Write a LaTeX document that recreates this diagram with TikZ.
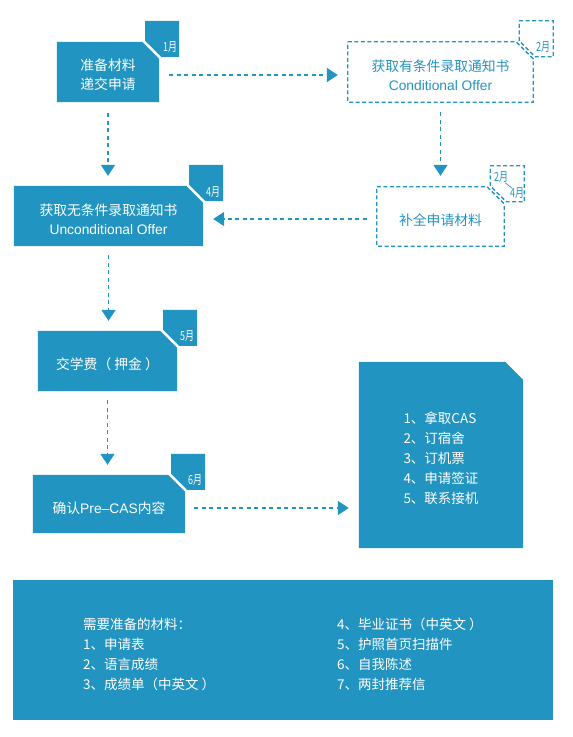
\documentclass[tikz,border=0pt]{standalone}
\usepackage{fontspec}
\setmainfont{Noto Sans CJK SC}
\newfontfamily\lat{Liberation Sans}
\usetikzlibrary{arrows.meta,calc,backgrounds}
\definecolor{cb}{HTML}{2294C1}
\newcommand\cutbox[3]{\path[#1] (#2.north west) -- ($(#2.north east)+(-#3,0)$) -- ($(#2.north east)+(0,#3)$) -- (#2.south east) -- (#2.south west) -- cycle;}
\newcommand\tabbox[2]{\path[#1] ($(#2.north east)+(-14,-21)$) -- ($(#2.north east)+(20,-21)$) -- ($(#2.north east)+(20,15)$) -- ($(#2.north east)+(2,15)$) -- ($(#2.north east)+(-14,-1)$) -- cycle;}
\newcommand\mo[1]{\scalebox{0.72}[1]{#1}}
\begin{document}
\begin{tikzpicture}[x=1pt,y=-1pt,
  shp/.style={inner sep=0pt},
  txt/.style={font=\fontsize{13.8}{19}\selectfont, align=center, inner sep=0pt},
  filltxt/.style={txt,text=white},
  dashtxt/.style={txt,text=cb},
  listtxt/.style={font=\fontsize{13.5}{20}\selectfont, align=left, inner sep=0pt, text=white},
  boxfill/.style={fill=cb},
  boxdash/.style={draw=cb, line width=1.3pt, dash pattern=on 4pt off 2.5pt},
  arr/.style={draw=cb, line width=1.6pt, dash pattern=on 4pt off 3.5pt, -{Triangle[length=11pt,width=14pt]}},
  mon/.style={font=\fontsize{12.5}{12.5}\selectfont, text=white, inner sep=0pt},
  mond/.style={mon, text=cb}
]
\useasboundingbox (0,0) rectangle (573,737);

\node[shp, minimum width=102pt, minimum height=60pt] (b1) at (108,72) {};
\node[shp, minimum width=185pt, minimum height=60pt] (b2) at (440.5,72) {};
\node[shp, minimum width=127pt, minimum height=59pt] (b3) at (440.5,216.5) {};
\node[shp, minimum width=189pt, minimum height=60pt] (b4) at (108.5,216) {};
\node[shp, minimum width=139pt, minimum height=60pt] (b5) at (107.5,361) {};
\node[shp, minimum width=152pt, minimum height=58pt] (b6) at (109,504) {};
\node[shp, minimum width=164pt, minimum height=186pt] (b7) at (441,455) {};
\node[shp, minimum width=540pt, minimum height=140pt] (b8) at (283,650) {};

\node[filltxt] (t1) at ($(b1)+(0,3)$) {准备材料\\递交申请};
\node[dashtxt] (t2) at ($(b2)+(0,3)$) {获取有条件录取通知书\\{\lat Conditional Offer}};
\node[dashtxt] (t3) at ($(b3)+(0,4)$) {补全申请材料};
\node[filltxt] (t4) at ($(b4)+(0,3)$) {获取无条件录取通知书\\{\lat Unconditional Offer}};
\node[filltxt] (t5) at ($(b5)+(0,3)$) {交学费（ 押金 ）};
\node[filltxt] (t6) at ($(b6)+(0,4)$) {确认{\lat Pre–CAS}内容};
\node[listtxt] (t7) at ($(b7)+(0,3)$) {1、拿取CAS\\2、订宿舍\\3、订机票\\4、申请签证\\5、联系接机};
\node[listtxt, anchor=west] (l1) at (83,654) {需要准备的材料：\\1、申请表\\2、语言成绩\\3、成绩单（中英文 ）};
\node[listtxt, anchor=west] (l2) at (337,654) {4、毕业证书（中英文 ）\\5、护照首页扫描件\\6、自我陈述\\7、两封推荐信};

\begin{scope}[on background layer]
  \cutbox{boxfill}{b1}{17}
  \tabbox{boxfill}{b1}
  \cutbox{boxfill}{b4}{17}
  \tabbox{boxfill}{b4}
  \cutbox{boxfill}{b5}{17}
  \tabbox{boxfill}{b5}
  \cutbox{boxfill}{b6}{17}
  \tabbox{boxfill}{b6}
  \cutbox{boxfill}{b7}{18}
  \fill[cb] (b8.north west) rectangle (b8.south east);
\end{scope}
\cutbox{boxdash}{b2}{17}
\tabbox{boxdash}{b2}
\cutbox{boxdash}{b3}{17}
\tabbox{boxdash}{b3}

\node[mon] (m1) at ($(b1.north east)+(11,5)$) {\mo{1月}};
\node[mond] (m2) at ($(b2.north east)+(10,5)$) {\mo{2月}};
\node[mond] (m3a) at ($(b3.north east)+(-3,-10)$) {\mo{2月}};
\node[mond] (m3b) at ($(b3.north east)+(13,6)$) {\mo{4月}};
\coordinate (s3a) at ($(b3.north east)+(1,-4)$);
\coordinate (s3b) at ($(b3.north east)+(8,1.5)$);
\draw[cb, line width=0.7pt] (s3a) -- (s3b);
\node[mon] (m4) at ($(b4.north east)+(10,6)$) {\mo{4月}};
\node[mon] (m5) at ($(b5.north east)+(10,5)$) {\mo{5月}};
\node[mon] (m6) at ($(b6.north east)+(10,5)$) {\mo{6月}};

\draw[arr] ($(b1.east)+(10,3)$) -- ($(b2.west)+(-10,3)$);
\draw[arr] ($(b1.south)+(0,11)$) -- ($(b1.south |- b4.north)+(0,-10)$);
\draw[arr] ($(b2.south)+(0,10)$) -- ($(b3.north)+(0,-11)$);
\draw[arr] ($(b3.west)+(-10,2.5)$) -- ($(b4.east |- b3.west)+(10,2.5)$);
\draw[arr] ($(b4.south)+(0,9)$) -- ($(b4.south |- b5.north)+(0,-10)$);
\draw[arr] ($(b5.south)+(0,9)$) -- ($(b5.south |- b6.north)+(0,-10)$);
\draw[arr] ($(b6.east)+(9,4)$) -- ($(b6.east -| b7.west)+(-10,4)$);
\end{tikzpicture}
\end{document}
